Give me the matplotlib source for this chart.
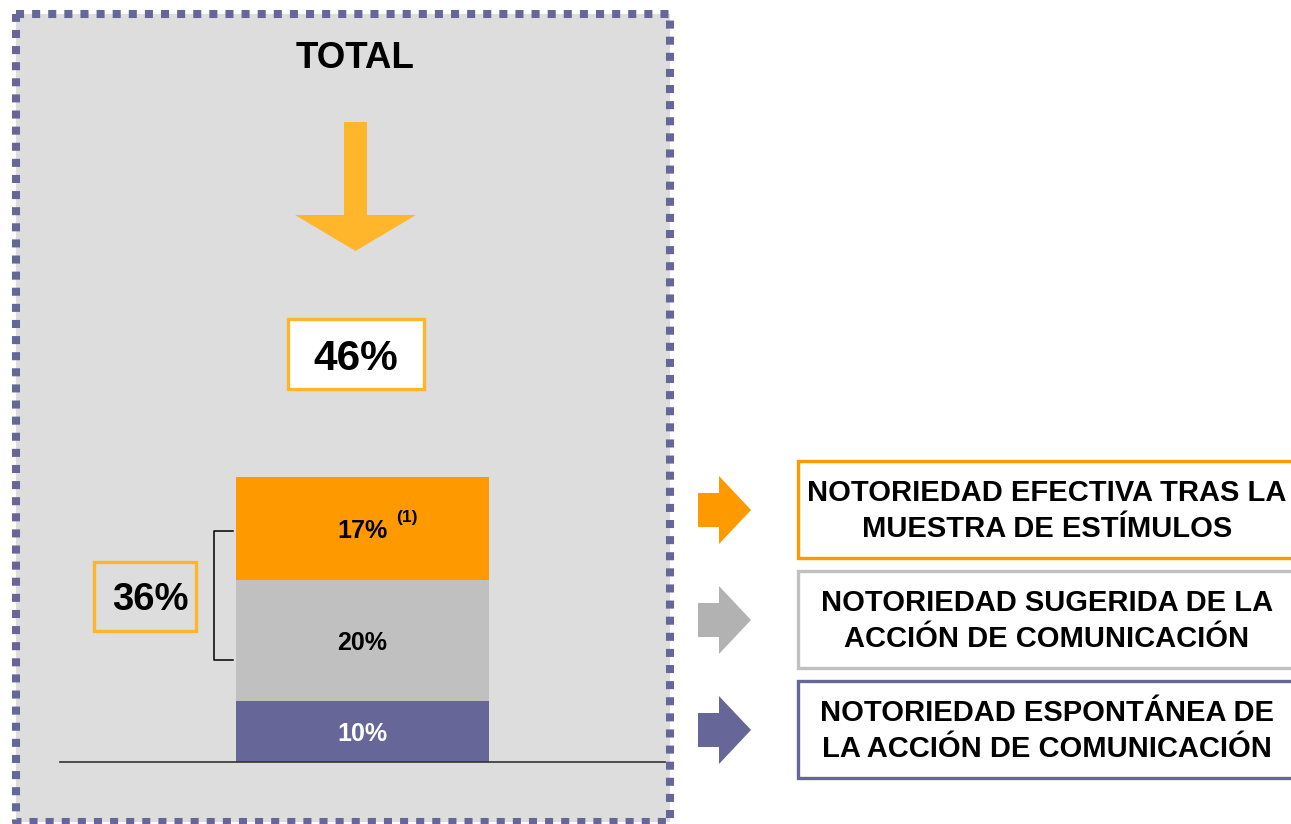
import matplotlib.pyplot as plt
from matplotlib.patches import Rectangle, Polygon

plt.rcParams['font.family'] = ['Liberation Sans', 'DejaVu Sans']
plt.rcParams['font.weight'] = 'bold'

# data
segments = ['Espontánea', 'Sugerida', 'Efectiva']
values = [10, 20, 17]
value_labels = ['10%', '20%', '17%']
seg_colors = ['#666699', '#C0C0C0', '#FF9900']
label_colors = ['white', 'black', 'black']
total_label = '46%'
bracket_label = '36%'
legend_texts = ['NOTORIEDAD EFECTIVA TRAS LA\nMUESTRA DE ESTÍMULOS',
                'NOTORIEDAD SUGERIDA DE LA\nACCIÓN DE COMUNICACIÓN',
                'NOTORIEDAD ESPONTÁNEA DE\nLA ACCIÓN DE COMUNICACIÓN']
legend_colors = ['#FF9900', '#C0C0C0', '#666699']
arrow_colors = ['#FF9900', '#B2B2B2', '#666699']

W, H = 1291, 824
fig = plt.figure(figsize=(W / 100, H / 100), dpi=100)

# overlay axes in pixel coordinates for decorations
bg = fig.add_axes([0, 0, 1, 1])
bg.set_xlim(0, W)
bg.set_ylim(H, 0)
bg.axis('off')

# grey panel with dotted border
bg.add_patch(Rectangle((16, 14), 654, 808, facecolor='#DDDDDD', edgecolor='none', zorder=0))
bg.plot([16, 670, 670, 16, 16], [14, 14, 822, 822, 14], color='#666699', lw=5.8,
        linestyle=(0, (1.0, 1.0)), solid_capstyle='butt', zorder=1)

bg.text(355, 58, 'TOTAL', ha='center', va='center', fontsize=26.5, fontweight='bold')

# big down arrow
bg.add_patch(Polygon([(344, 122), (367, 122), (367, 215), (416, 215), (355.5, 251),
                      (295, 215), (344, 215)], closed=True, facecolor='#FFB62A',
                     edgecolor='none'))

# total box
bg.add_patch(Rectangle((287.5, 318.5), 136, 70, facecolor='white', edgecolor='#FFB52A', lw=2.4))
bg.text(355.5, 354, total_label, ha='center', va='center_baseline', fontsize=30.5,
        fontweight='bold')

# 36% box
bg.add_patch(Rectangle((93.5, 561.5), 102, 69, facecolor='none', edgecolor='#FFB52A', lw=2.4))
bg.text(150, 596, bracket_label, ha='center', va='center_baseline', fontsize=27.5,
        fontweight='bold')

# bracket
bg.plot([233, 214, 214, 233], [531, 531, 660, 660], color='black', lw=1.1)

# legend arrows and boxes
arrow_tips = [510, 620, 730]
box_tops = [461, 571, 681]
for tip, top, ac, lc, txt in zip(arrow_tips, box_tops, arrow_colors, legend_colors, legend_texts):
    bg.add_patch(Polygon([(698, tip - 17), (719, tip - 17), (719, tip - 34), (751, tip),
                          (719, tip + 34), (719, tip + 17), (698, tip + 17)],
                         closed=True, facecolor=ac, edgecolor='none'))
    bg.add_patch(Rectangle((798, top), 520, 97, facecolor='white', edgecolor=lc, lw=2.4,
                           clip_on=False))
    bg.text(1047, top + 50, txt, ha='center', va='center', fontsize=21,
            fontweight='bold', linespacing=1.38)

# stacked bar axes: value 0 at y=762 px, ~6.06 px per unit
ymax = 50
ax = fig.add_axes([60 / W, (H - 762) / H, 605 / W, ymax * 6.06 / H])
ax.patch.set_alpha(0)
ax.set_xlim(-1, 1)
ax.set_ylim(0, ymax)
bottom = 0
for v, lab, c, tc in zip(values, value_labels, seg_colors, label_colors):
    ax.bar(0, v, width=0.836, bottom=bottom, color=c, edgecolor='none')
    ax.text(0, bottom + v / 2, lab, ha='center', va='center_baseline', fontsize=18,
            fontweight='bold', color=tc)
    bottom += v
ax.text(0.147, 40.4, '(1)', ha='center', va='center', fontsize=12.5, fontweight='bold')
for s in ['top', 'left', 'right']:
    ax.spines[s].set_visible(False)
ax.spines['bottom'].set_color('#333333')
ax.spines['bottom'].set_linewidth(1.2)
ax.set_xticks([])
ax.set_yticks([])

fig.savefig('out.png', dpi=100)
